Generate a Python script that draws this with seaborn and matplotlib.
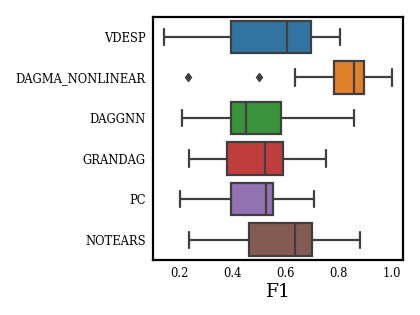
"""Boxplot F1 por método"""

import pandas as pd
import seaborn as sns
import matplotlib.pyplot as plt

# Datos (mínimo, cuartiles, máximo y atípicos)

metodos = ["VDESP", "DAGMA_NONLINEAR", "DAGGNN", "GRANDAG", "PC", "NOTEARS"]

f1_vdesp = [0.144, 0.395, 0.604, 0.695, 0.805]
f1_dagma = [0.235, 0.500, 0.636, 0.781, 0.800, 0.830, 0.856,
            0.870, 0.880, 0.895, 0.930, 0.960, 1.000]
f1_daggnn = [0.210, 0.395, 0.453, 0.584, 0.858]
f1_grandag = [0.237, 0.380, 0.522, 0.589, 0.751]
f1_pc = [0.205, 0.395, 0.528, 0.554, 0.706]
f1_notears = [0.237, 0.461, 0.637, 0.698, 0.881]

valores = [f1_vdesp, f1_dagma, f1_daggnn, f1_grandag, f1_pc, f1_notears]

filas = []
for m, vals in zip(metodos, valores):
    for v in vals:
        filas.append({"Método": m, "F1": v})
df = pd.DataFrame(filas)

# Grafica la figura

sns.set_style("white")
plt.rcParams["font.family"] = ["DejaVu Serif"]
plt.rcParams["axes.linewidth"] = 1.6
plt.rcParams["axes.edgecolor"] = "black"
plt.rcParams["text.color"] = "black"
plt.rcParams["axes.labelcolor"] = "black"
plt.rcParams["xtick.color"] = "black"
plt.rcParams["ytick.color"] = "black"

gris = "#3f3f3f"
fig = plt.figure(figsize=(4.2, 3.15), dpi=100)
ax = fig.add_axes([0.364, 0.175, 0.596, 0.772])
sns.boxplot(data=df, x="F1", y="Método", hue="Método", order=metodos,
            palette="tab10", legend=False, ax=ax, linewidth=1.6,
            linecolor=gris,
            flierprops={"marker": "d", "markersize": 4.5,
                        "markerfacecolor": gris, "markeredgecolor": gris})
ax.set_ylabel("")
ax.set_xlabel("F1", fontsize=13.5, labelpad=2)
ax.tick_params(axis="both", labelsize=8.3, length=3, width=1, pad=2)
ax.set_xticks([0.2, 0.4, 0.6, 0.8, 1.0])
plt.savefig("out.png", dpi=100)
